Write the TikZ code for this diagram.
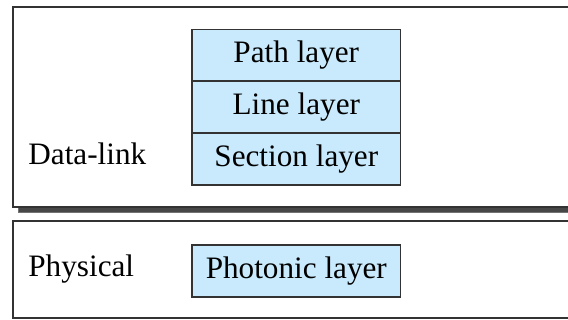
\documentclass[tikz,border=0pt]{standalone}
\usepackage{fontspec}
\setmainfont{Liberation Serif}
\begin{document}
\begin{tikzpicture}[x=0.5pt,y=-0.5pt,
  outerbox/.style={draw=black!80,line width=1pt,fill=white},
  shadowbox/.style={fill=black!72,draw=black!55,line width=0.4pt},
  layerbox/.style={draw=black!80,line width=0.8pt,fill=layerblue,
    minimum width=104.25pt,minimum height=25.9pt,inner sep=0pt,
    font=\fontsize{15.6}{18}\selectfont},
  lbl/.style={anchor=base west,inner sep=0pt,font=\fontsize{15.6}{18}\selectfont}]
\definecolor{layerblue}{HTML}{C8EAFC}
\useasboundingbox (0,0) rectangle (568,320);
\clip (0,0) rectangle (568,320);
% data-link frame with shadow
\fill[shadowbox] (18,12) rectangle (590,212.5);
\draw[outerbox] (13,7) rectangle (585,207);
% physical frame
\draw[outerbox] (13,221) rectangle (585,318.5);
% layers
\node[layerbox] (path) at (296.3,55.5) {Path layer};
\node[layerbox] (line) at (296.3,107.2) {Line layer};
\node[layerbox] (section) at (296.3,159) {Section layer};
\node[layerbox] (photonic) at (296.3,271) {Photonic layer};
\node[lbl] (datalink) at (28,165) {Data-link};
\node[lbl] (physical) at (28,277) {Physical};
\end{tikzpicture}
\end{document}
